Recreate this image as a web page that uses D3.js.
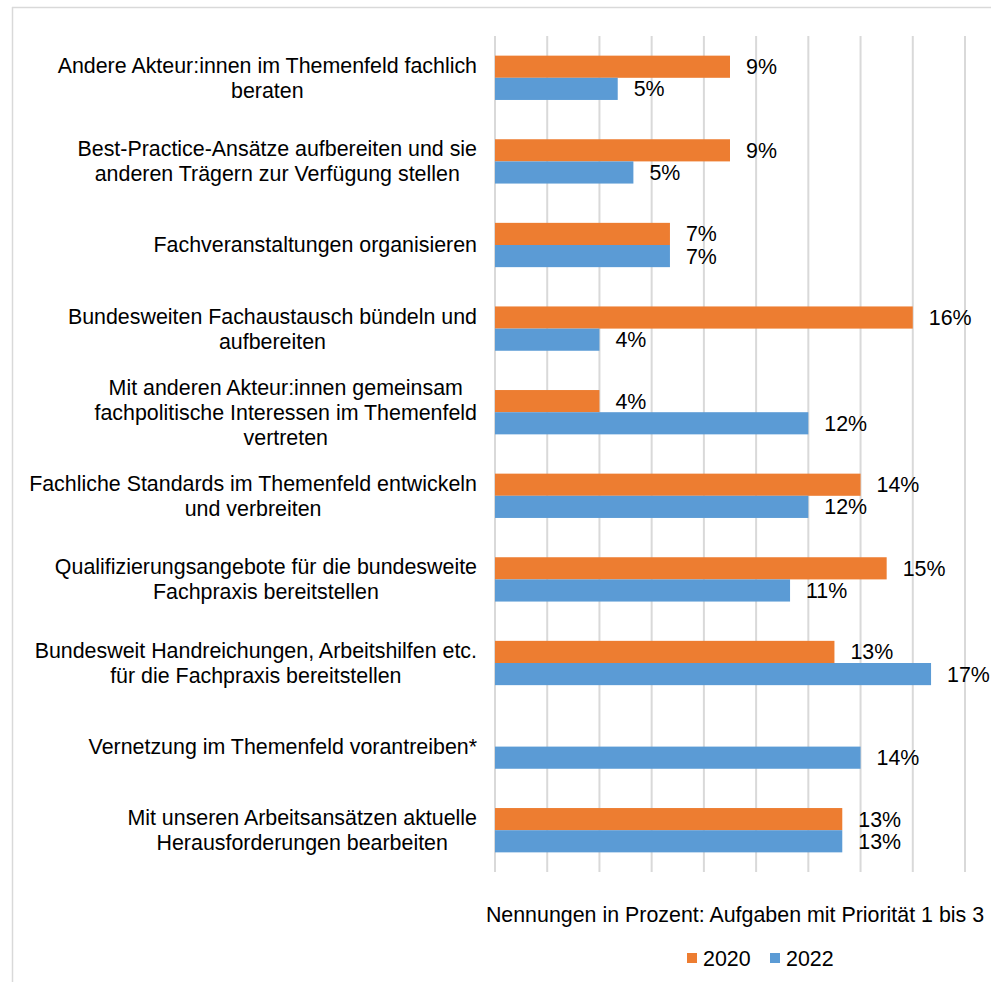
<!DOCTYPE html>
<html lang="de">
<head>
<meta charset="utf-8">
<title>Aufgaben mit Priorität 1 bis 3</title>
<script src="https://cdn.jsdelivr.net/npm/d3@7"></script>
<style>
  body { margin: 0; background: #fff; }
  svg { display: block; font-family: "Liberation Sans", Arial, sans-serif; }
</style>
</head>
<body>
<div class="chart"></div>
<script>
// categories, top to bottom (lines as shown in the chart)
var categories = [
  ["Andere Akteur:innen im Themenfeld fachlich", "beraten"],
  ["Best-Practice-Ansätze aufbereiten und sie", "anderen Trägern zur Verfügung stellen"],
  ["Fachveranstaltungen organisieren"],
  ["Bundesweiten Fachaustausch bündeln und", "aufbereiten"],
  ["Mit anderen Akteur:innen gemeinsam", "fachpolitische Interessen im Themenfeld", "vertreten"],
  ["Fachliche Standards im Themenfeld entwickeln", "und verbreiten"],
  ["Qualifizierungsangebote für die bundesweite", "Fachpraxis bereitstellen"],
  ["Bundesweit Handreichungen, Arbeitshilfen etc.", "für die Fachpraxis bereitstellen"],
  ["Vernetzung im Themenfeld vorantreiben*"],
  ["Mit unseren Arbeitsansätzen aktuelle", "Herausforderungen bearbeiten"]
];
var years = ["2020", "2022"];
var values2020 = [9.0, 9.0, 6.7, 16.0, 4.0, 14.0, 15.0, 13.0, null, 13.3];
var values2022 = [4.7, 5.3, 6.7, 4.0, 12.0, 12.0, 11.3, 16.7, 14.0, 13.3];
var xTicks = [0, 2, 4, 6, 8, 10, 12, 14, 16, 18];
var axisTitle = "Nennungen in Prozent: Aufgaben mit Priorität 1 bis 3";

var colors = { "2020": "#ed7d31", "2022": "#5b9bd5" };
var W = 991, H = 982, fs = 21.4;

var svg = d3.select(".chart").append("svg")
    .attr("width", W).attr("height", H);

// outer frame (only top and left edges are visible)
svg.append("line").attr("x1", 12).attr("x2", W).attr("y1", 7.5).attr("y2", 7.5)
    .attr("stroke", "#d9d9d9").attr("stroke-width", 1.5);
svg.append("line").attr("x1", 12.5).attr("x2", 12.5).attr("y1", 7).attr("y2", H)
    .attr("stroke", "#d9d9d9").attr("stroke-width", 1.5);

var x = d3.scaleLinear().domain([0, 18]).range([495, 965]);
var y = d3.scaleBand().domain(d3.range(categories.length)).range([36, 872]).paddingInner(0.47).paddingOuter(0.235);
var sub = d3.scaleBand().domain(years).range([0, y.bandwidth()]);

// gridlines
svg.append("g").selectAll("line").data(xTicks).enter().append("line")
    .attr("x1", function(d) { return x(d); })
    .attr("x2", function(d) { return x(d); })
    .attr("y1", 36).attr("y2", 872)
    .attr("stroke", "#d9d9d9").attr("stroke-width", 2);

var rows = [];
categories.forEach(function(c, i) {
  rows.push({ i: i, year: "2020", v: values2020[i] });
  rows.push({ i: i, year: "2022", v: values2022[i] });
});
rows = rows.filter(function(r) { return r.v != null; });

svg.append("g").selectAll("rect").data(rows).enter().append("rect")
    .attr("x", x(0))
    .attr("y", function(d) { return y(d.i) + sub(d.year); })
    .attr("width", function(d) { return x(d.v) - x(0); })
    .attr("height", sub.bandwidth())
    .attr("fill", function(d) { return colors[d.year]; });

svg.append("g").selectAll("text").data(rows).enter().append("text")
    .attr("x", function(d) { return x(d.v) + 16; })
    .attr("y", function(d) { return y(d.i) + sub(d.year) + sub.bandwidth() / 2; })
    .attr("dy", "0.35em")
    .attr("font-size", fs)
    .attr("fill", "#000")
    .text(function(d) { return d3.format(".0f")(d.v) + "%"; });

// category labels: centered lines, block right-aligned at x=477
var lineH = 25;
categories.forEach(function(lines, i) {
  var g = svg.append("g");
  var t = g.selectAll("text").data(lines).enter().append("text")
      .attr("font-size", fs)
      .attr("fill", "#000")
      .attr("text-anchor", "middle")
      .attr("y", function(d, k) { return y(i) + y.bandwidth() / 2 + (k - (lines.length - 1) / 2) * lineH; })
      .attr("dy", "0.35em")
      .text(function(d) { return d; });
  var maxW = 0;
  t.each(function() { maxW = Math.max(maxW, this.getComputedTextLength()); });
  t.attr("x", 477 - maxW / 2);
});

svg.append("text")
    .attr("x", (x(0) + x(18)) / 2 + 5).attr("y", 915)
    .attr("dy", "0.35em")
    .attr("text-anchor", "middle")
    .attr("font-size", fs)
    .text(axisTitle);

// legend
var legend = svg.append("g").selectAll("g").data(years).enter().append("g")
    .attr("transform", function(d, i) { return "translate(" + (687 + i * 83) + ",958)"; });
legend.append("rect").attr("x", 0).attr("y", -5).attr("width", 10).attr("height", 10)
    .attr("fill", function(d) { return colors[d]; });
legend.append("text").attr("x", 16).attr("dy", "0.35em").attr("font-size", fs)
    .text(function(d) { return d; });
</script>
</body>
</html>
